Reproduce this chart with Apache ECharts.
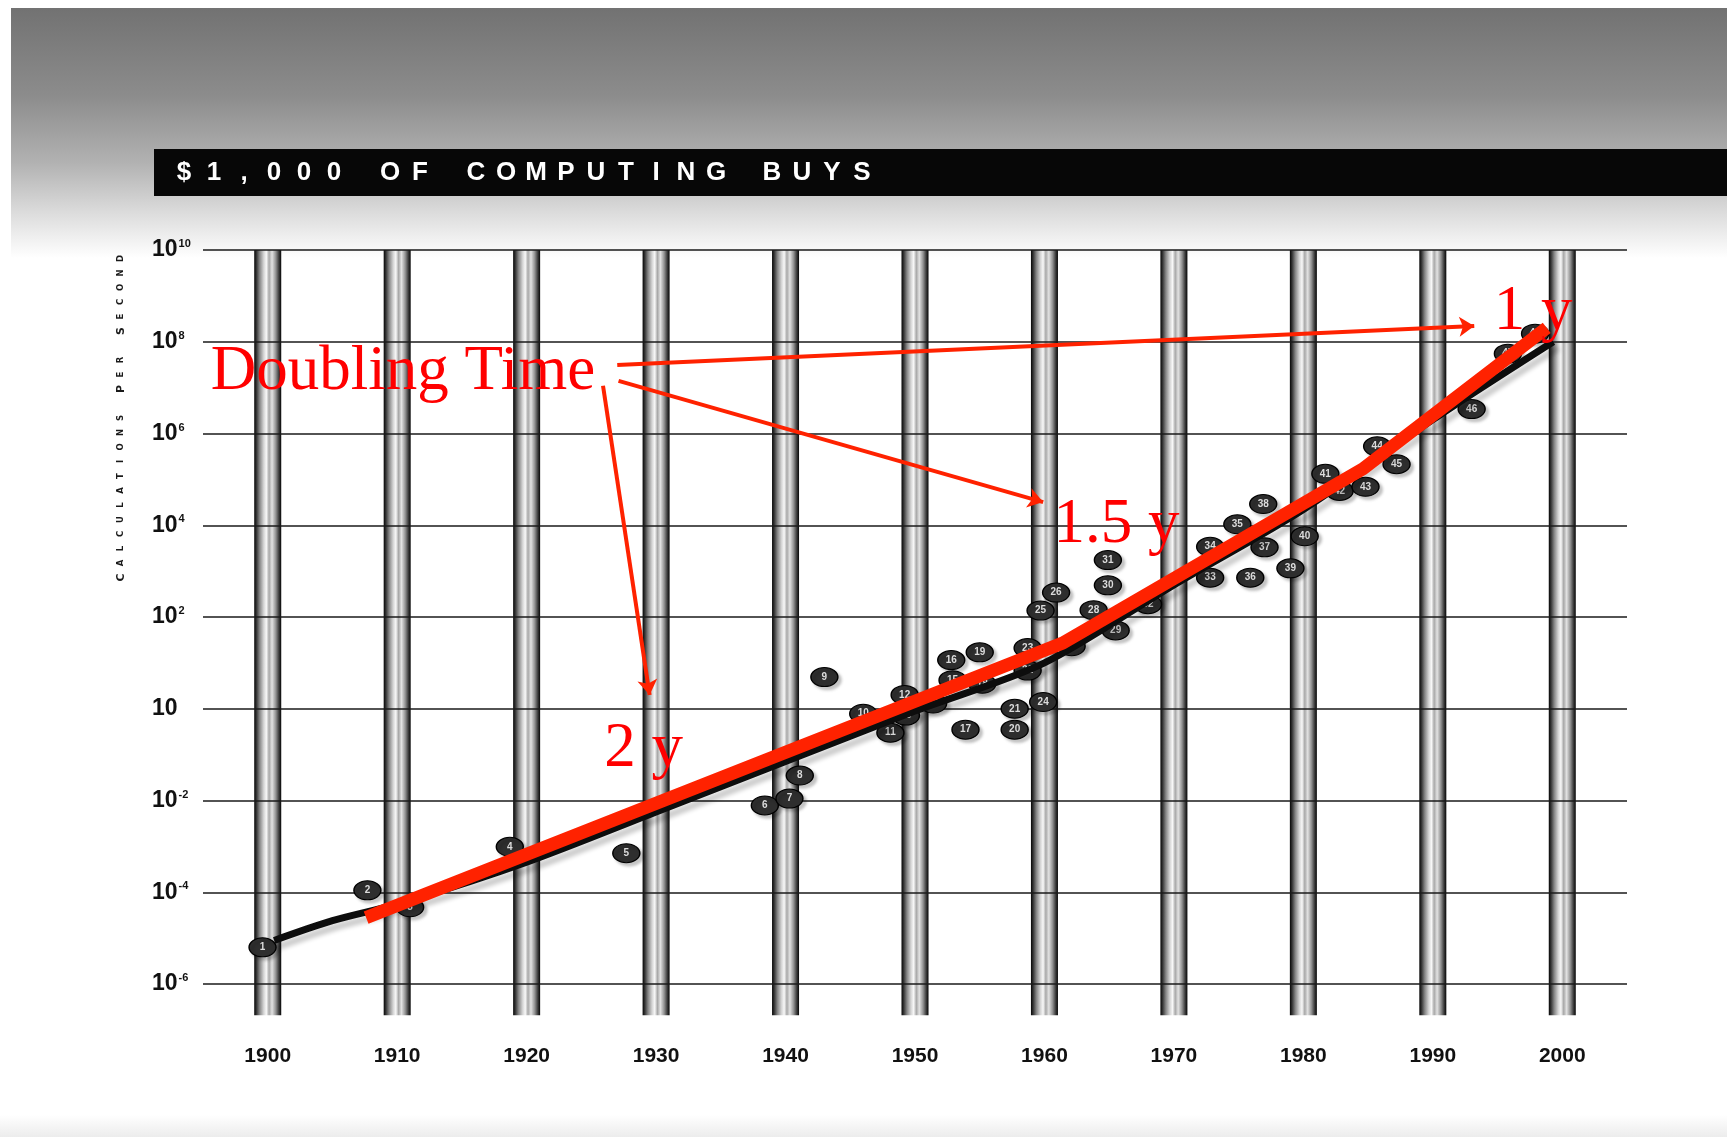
<!DOCTYPE html>
<html>
<head>
<meta charset="utf-8">
<script src="https://cdn.jsdelivr.net/npm/echarts@6/dist/echarts.min.js"></script>
<style>
html,body{margin:0;padding:0;background:#fff;}
#chart{width:1727px;height:1137px;}
</style>
</head>
<body>
<div id="chart"></div>
<script>
// ---------- data ----------
const titleText = '$1,000 OF COMPUTING BUYS';
const yAxisTitle = 'CALCULATIONS PER SECOND';
const decadeYears = [1900, 1910, 1920, 1930, 1940, 1950, 1960, 1970, 1980, 1990, 2000];
const yTickExponents = [-6, -4, -2, 0, 2, 4, 6, 8, 10];
const yTickSup = ['-6', '-4', '-2', '', '2', '4', '6', '8', '10'];

// individual machines (year, calculations per second per $1,000)
const pointYears = [1899.6, 1907.7, 1911.0, 1918.7, 1927.7, 1938.4, 1940.3, 1941.1, 1943.0, 1946.0,
  1948.1, 1949.2, 1949.3, 1951.4, 1952.9, 1952.8, 1953.9, 1955.2, 1955.0, 1957.7,
  1957.7, 1958.7, 1958.7, 1959.9, 1959.7, 1960.9, 1962.1, 1963.8, 1965.5, 1964.9,
  1964.9, 1968.0, 1972.8, 1972.8, 1974.9, 1975.9, 1977.0, 1976.9, 1979.0, 1980.1,
  1981.7, 1982.8, 1984.8, 1985.7, 1987.2, 1993.0, 1995.8, 1997.9];
const pointValues = [6.3e-6, 1.1e-4, 4.7e-5, 9.8e-4, 7.1e-4, 7.8e-3, 1.1e-2, 3.5e-2, 4.9, 0.78,
  0.30, 2.0, 0.71, 1.3, 4.2, 11.5, 0.35, 3.5, 17, 0.35,
  1.0, 6.8, 21, 1.4, 138, 340, 23, 141, 51, 490,
  1740, 190, 720, 3400, 10500, 720, 3300, 29000, 1150, 5750,
  132000, 56000, 69000, 525000, 214000, 3.4e6, 5.5e7, 1.5e8];

// black trend curve
const trendYears = [1900.5, 1905, 1910.5, 1920, 1930, 1940, 1950, 1960, 1970, 1980, 1990, 1999.3];
const trendValues = [8.9e-6, 2.4e-5, 6.0e-5, 4.5e-4, 5.6e-3, 0.071, 0.89, 10, 500, 22000, 2.0e6, 1.0e8];

// red doubling-time segments
const doublingYears = [1907.6, 1961.4, 1984.6, 1998.8];
const doublingValues = [2.8e-5, 27, 1.7e5, 2.0e8];

// red annotations
const annotationTexts = ['Doubling Time', '2 y', '1.5 y', '1 y'];
const annotationYears = [1895.6, 1926.0, 1960.7, 1994.7];
const annotationValues = [2.1e7, 0.13, 1.0e4, 4.3e8];
const arrowFromYears = [1927.0, 1927.1, 1925.9];
const arrowFromValues = [3.1e7, 1.4e7, 1.1e7];
const arrowToYears = [1993.2, 1959.9, 1929.5];
const arrowToValues = [2.2e8, 3.2e4, 2.0];

// ---------- helpers ----------
const lg = v => Math.log10(v);
const RED = '#ff2200';
const SANS = '"Liberation Sans", Arial, sans-serif';
const SERIF = '"Liberation Serif", "Times New Roman", serif';

const chart = echarts.init(document.getElementById('chart'), null, {renderer: 'canvas'});

// title as fixed-pitch rich tokens
const titleRich = titleText.split('').map(ch => ch === ' ' ? '{sp| }' : '{c|' + ch + '}').join('');
// y-axis title as small caps with letter pitch
const yTitleRich = yAxisTitle.split('').map((ch, i, a) => {
  if (ch === ' ') return '{sp| }';
  const first = i === 0 || a[i - 1] === ' ';
  return (first ? '{L|' : '{l|') + ch + '}';
}).join('');

const barGradient = new echarts.graphic.LinearGradient(0, 0, 1, 0, [
  {offset: 0, color: '#050505'},
  {offset: 0.08, color: '#333333'},
  {offset: 0.2, color: '#858585'},
  {offset: 0.35, color: '#d4d4d4'},
  {offset: 0.45, color: '#f8f8f8'},
  {offset: 0.55, color: '#a8a8a8'},
  {offset: 0.66, color: '#e2e2e2'},
  {offset: 0.8, color: '#929292'},
  {offset: 0.92, color: '#383838'},
  {offset: 1, color: '#050505'}
]);

const option = {
  backgroundColor: '#ffffff',
  animation: false,
  grid: {left: 203, right: 100, top: 250, bottom: 153, containLabel: false, outerBoundsMode: 'none'},
  graphic: {
    elements: [
      {
        type: 'rect', z: -20, silent: true,
        shape: {x: 11, y: 8, width: 1716, height: 250},
        style: {fill: new echarts.graphic.LinearGradient(0, 0, 0, 1, [
          {offset: 0, color: '#727272'},
          {offset: 0.35, color: '#8c8c8c'},
          {offset: 0.62, color: '#b2b2b2'},
          {offset: 0.82, color: '#dcdcdc'},
          {offset: 1, color: '#ffffff'}
        ])}
      },
      {
        type: 'rect', z: -20, silent: true,
        shape: {x: 0, y: 1115, width: 1727, height: 22},
        style: {fill: new echarts.graphic.LinearGradient(0, 0, 0, 1, [
          {offset: 0, color: '#ffffff'},
          {offset: 1, color: '#ececec'}
        ])}
      },
      {
        type: 'rect', z: -15, silent: true,
        shape: {x: 154, y: 149, width: 1573, height: 47},
        style: {fill: '#070707'}
      },
      {
        type: 'text', z: -14, silent: true,
        x: 169, y: 173,
        style: {
          text: titleRich,
          align: 'left', verticalAlign: 'middle',
          rich: {
            c: {width: 30, align: 'center', fontSize: 26, fontWeight: 'bold', fontFamily: SANS, fill: '#ffffff'},
            sp: {width: 26, align: 'center', fontSize: 26, fill: '#ffffff'}
          }
        }
      },
      {
        type: 'text', z: -14, silent: true,
        x: 121, y: 418, rotation: Math.PI / 2,
        style: {
          text: yTitleRich,
          align: 'center', verticalAlign: 'middle',
          rich: {
            L: {width: 14.5, align: 'center', fontSize: 11, fontWeight: 'bold', fontFamily: '"DejaVu Sans", sans-serif', fill: '#1a1a1a'},
            l: {width: 14.5, align: 'center', fontSize: 8.5, fontWeight: 'bold', fontFamily: '"DejaVu Sans", sans-serif', fill: '#1a1a1a'},
            sp: {width: 14.5, align: 'center', fontSize: 9, fill: '#1a1a1a'}
          }
        }
      }
    ]
  },
  xAxis: {
    type: 'value',
    min: 1895, max: 2005, interval: 5,
    axisLine: {show: false}, axisTick: {show: false},
    splitLine: {show: false},
    axisLabel: {
      margin: 62,
      fontFamily: SANS, fontWeight: 'bold', fontSize: 21, color: '#111',
      formatter: v => (decadeYears.indexOf(v) >= 0 ? String(v) : '')
    }
  },
  yAxis: {
    type: 'value',
    min: -6, max: 10, interval: 2,
    axisLine: {show: false}, axisTick: {show: false},
    splitLine: {show: true, lineStyle: {color: '#1a1a1a', width: 1.6}},
    axisLabel: {
      align: 'left', margin: 51,
      formatter: v => {
        const i = yTickExponents.indexOf(v);
        const s = i >= 0 ? yTickSup[i] : '';
        return s ? '{b|10}{s|' + s + '}' : '{b|10}';
      },
      rich: {
        b: {fontFamily: SANS, fontWeight: 'bold', fontSize: 23, color: '#111'},
        s: {fontFamily: SANS, fontWeight: 'bold', fontSize: 11, color: '#111', verticalAlign: 'top', padding: [0, 0, 0, 1]}
      }
    }
  },
  series: [
    {
      // decade cylinders
      type: 'custom', z: -1, silent: true, clip: false,
      data: decadeYears.map(y => [y]),
      encode: {x: 0},
      renderItem: (params, api) => {
        const x = api.value(0);
        const top = api.coord([x, 10]);
        const bottom = api.coord([x, -6.68]);
        const w = 27;
        return {
          type: 'rect',
          shape: {x: top[0] - w / 2, y: top[1], width: w, height: bottom[1] - top[1]},
          style: {fill: barGradient}
        };
      }
    },
    {
      // machines
      type: 'scatter', z: 3, silent: true,
      data: pointYears.map((y, i) => [y, lg(pointValues[i]), i + 1]),
      symbol: 'circle', symbolSize: [27, 19],
      itemStyle: {
        color: '#2e2e2e', borderColor: '#000', borderWidth: 1.2, opacity: 1,
        shadowColor: 'rgba(0,0,0,0.22)', shadowBlur: 3, shadowOffsetX: 3, shadowOffsetY: 3
      },
      label: {
        show: true, position: 'inside',
        formatter: p => String(p.value[2]),
        color: '#dcdcdc', fontSize: 10, fontWeight: 'bold', fontFamily: SANS
      }
    },
    {
      // black trend curve
      type: 'line', z: 4, silent: true, smooth: 0.3,
      data: trendYears.map((y, i) => [y, lg(trendValues[i])]),
      showSymbol: false, symbol: 'none',
      lineStyle: {color: '#0d0d0d', width: 7, shadowColor: 'rgba(0,0,0,0.2)', shadowBlur: 4, shadowOffsetX: 5, shadowOffsetY: 6}
    },
    {
      // red doubling-time segments
      type: 'line', z: 5, silent: true,
      data: doublingYears.map((y, i) => [y, lg(doublingValues[i])]),
      showSymbol: false, symbol: 'none',
      lineStyle: {color: RED, width: 13, cap: 'butt', join: 'miter'}
    },
    {
      // arrows
      type: 'lines', coordinateSystem: 'cartesian2d', z: 6, silent: true,
      symbol: ['none', 'arrow'], symbolSize: 15,
      lineStyle: {color: RED, width: 4, opacity: 1, curveness: 0},
      data: arrowFromYears.map((y, i) => ({
        coords: [[y, lg(arrowFromValues[i])], [arrowToYears[i], lg(arrowToValues[i])]]
      }))
    },
    {
      // annotations
      type: 'custom', z: 7, silent: true, clip: false,
      data: annotationYears.map((y, i) => [y, lg(annotationValues[i])]),
      encode: {x: 0, y: 1},
      renderItem: (params, api) => {
        const pt = api.coord([api.value(0), api.value(1)]);
        return {
          type: 'text',
          x: pt[0], y: pt[1],
          style: {
            text: annotationTexts[params.dataIndex],
            fill: '#ff0000',
            fontSize: 63, fontFamily: SERIF,
            align: 'left', verticalAlign: 'middle'
          }
        };
      }
    }
  ]
};

chart.setOption(option);
</script>
</body>
</html>
